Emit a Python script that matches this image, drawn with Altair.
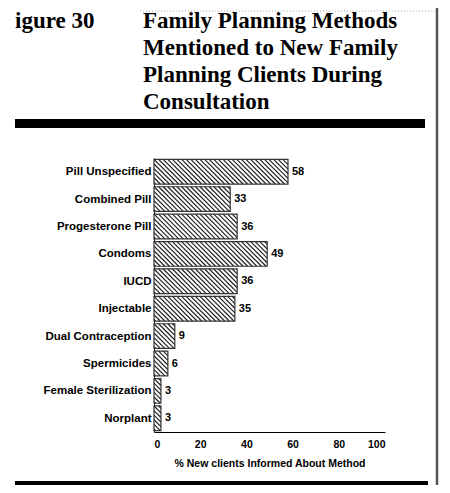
import altair as alt
import pandas as pd

# ---- data ----
methods = ["Pill Unspecified", "Combined Pill", "Progesterone Pill", "Condoms",
           "IUCD", "Injectable", "Dual Contraception", "Spermicides",
           "Female Sterilization", "Norplant"]
values = [58, 33, 36, 49, 36, 35, 9, 6, 3, 3]
x_ticks = [0, 20, 40, 60, 80, 100]

title_lines = ["Family Planning Methods", "Mentioned to New Family",
               "Planning Clients During", "Consultation"]
fig_label = "igure 30"
x_title = "% New clients Informed About Method"

# ---- layout (pixels) ----
W, H = 231, 274
HALF = 0.45          # half bar thickness in row units
STRIPE = 4.6         # hatch spacing in px
px_x = W / 100.0
px_row = H / len(methods)

rows = list(range(len(methods)))
bars = pd.DataFrame({
    "row": rows,
    "method": methods,
    "value": values,
    "x0": [0] * len(rows),
    "top": [r - HALF for r in rows],
    "bot": [r + HALF for r in rows],
})

# hatch segments ("\\\\" direction) clipped to each bar, built from the values
segs = []
h_px = 2 * HALF * px_row
for r, v in zip(rows, values):
    L = v * px_x
    k = int(-h_px // STRIPE) - 1
    while k * STRIPE < L:
        c = k * STRIPE
        y_s = max(0.0, -c)
        y_e = min(h_px, L - c)
        if y_e > y_s:
            segs.append({
                "x1": (c + y_s) / px_x, "x2": (c + y_e) / px_x,
                "y1": r - HALF + y_s / px_row, "y2": r - HALF + y_e / px_row,
            })
        k += 1
hatch = pd.DataFrame(segs)

names_js = "[" + ",".join("'" + m + "'" for m in methods) + "]"

yscale = alt.Scale(domain=[-0.5, len(methods) - 0.5], reverse=True, nice=False, zero=False)
xscale = alt.Scale(domain=[0, 100], nice=False)

base_font = "Liberation Sans"

xaxis = alt.Axis(values=x_ticks, ticks=False, grid=False, domain=True,
                 domainColor="black", domainWidth=1.2,
                 labelFont=base_font, labelFontWeight="bold",
                 labelFontSize=10.5, labelColor="black", labelPadding=7,
                 labelOverlap=False,
                 title=x_title, titleFont=base_font, titleFontWeight="bold",
                 titleFontSize=10.5, titleColor="black", titlePadding=9)
yaxis = alt.Axis(values=rows, labelExpr=names_js + "[datum.value]",
                 ticks=False, grid=False, domain=True,
                 domainColor="#222", domainWidth=1,
                 labelFont=base_font, labelFontWeight="bold",
                 labelFontSize=11.5, labelColor="black", labelPadding=3,
                 labelOverlap=False, labelBound=False, labelFlush=False,
                 title=None)

fill_layer = alt.Chart(bars).mark_rect(fill="white", stroke=None).encode(
    x=alt.X("x0:Q", scale=xscale, axis=xaxis),
    x2="value:Q",
    y=alt.Y("top:Q", scale=yscale, axis=yaxis),
    y2="bot:Q",
)

hatch_layer = alt.Chart(hatch).mark_rule(color="#222", strokeWidth=1.2).encode(
    x=alt.X("x1:Q", scale=xscale, axis=xaxis),
    x2="x2:Q",
    y=alt.Y("y1:Q", scale=yscale, axis=yaxis),
    y2="y2:Q",
)

outline_layer = alt.Chart(bars).mark_rect(fill="white", fillOpacity=0,
                                          stroke="#333", strokeWidth=1.2).encode(
    x=alt.X("x0:Q", scale=xscale, axis=xaxis), x2="value:Q",
    y=alt.Y("top:Q", scale=yscale, axis=yaxis), y2="bot:Q",
)

value_layer = alt.Chart(bars).mark_text(
    align="left", baseline="middle", dx=4, font=base_font, fontWeight="bold",
    fontSize=11, color="black").encode(
    x=alt.X("value:Q", scale=xscale, axis=xaxis),
    y=alt.Y("row:Q", scale=yscale, axis=yaxis),
    text="value:Q",
)

one = alt.Data(values=[{"a": 1}])

def title_text(txt, x, y):
    return alt.Chart(one).mark_text(
        align="left", baseline="alphabetic", font="Liberation Serif",
        fontWeight="bold", fontSize=23, color="black").encode(
        x=alt.value(x), y=alt.value(y), text=alt.value(txt))

OX, OY = 154, 158   # page position of plot origin
baselines = [28, 55, 82, 109]
title_layers = [title_text(t, 143 - OX, b - OY) for t, b in zip(title_lines, baselines)]
title_layers.append(title_text(fig_label, 15 - OX, baselines[0] - OY))

top_bar = alt.Chart(one).mark_rect(color="black").encode(
    x=alt.value(15 - OX), x2=alt.value(425 - OX),
    y=alt.value(119 - OY), y2=alt.value(128 - OY))
bottom_bar = alt.Chart(one).mark_rect(color="black").encode(
    x=alt.value(15 - OX), x2=alt.value(428 - OX),
    y=alt.value(481 - OY), y2=alt.value(490 - OY))
vline = alt.Chart(one).mark_rule(color="#555", strokeWidth=2.5).encode(
    x=alt.value(437 - OX), y=alt.value(0 - OY), y2=alt.value(500 - OY))
dotted = alt.Chart(one).mark_rule(color="#aaa", strokeWidth=1, strokeDash=[1, 2]).encode(
    x=alt.value(140 - OX), x2=alt.value(436 - OX), y=alt.value(11 - OY))

chart = alt.layer(
    fill_layer, hatch_layer, outline_layer, value_layer,
    top_bar, bottom_bar, vline, dotted, *title_layers
).properties(
    width=W, height=H,
    autosize=alt.AutoSizeParams(type="none"),
    padding={"left": OX - 8, "top": OY - 8, "right": 434 - (OX - 8) - W,
             "bottom": 477 - (OY - 8) - H},
    background="white",
).configure_view(stroke=None)

chart.save("out.html", embed_options={"renderer": "svg", "actions": False})
